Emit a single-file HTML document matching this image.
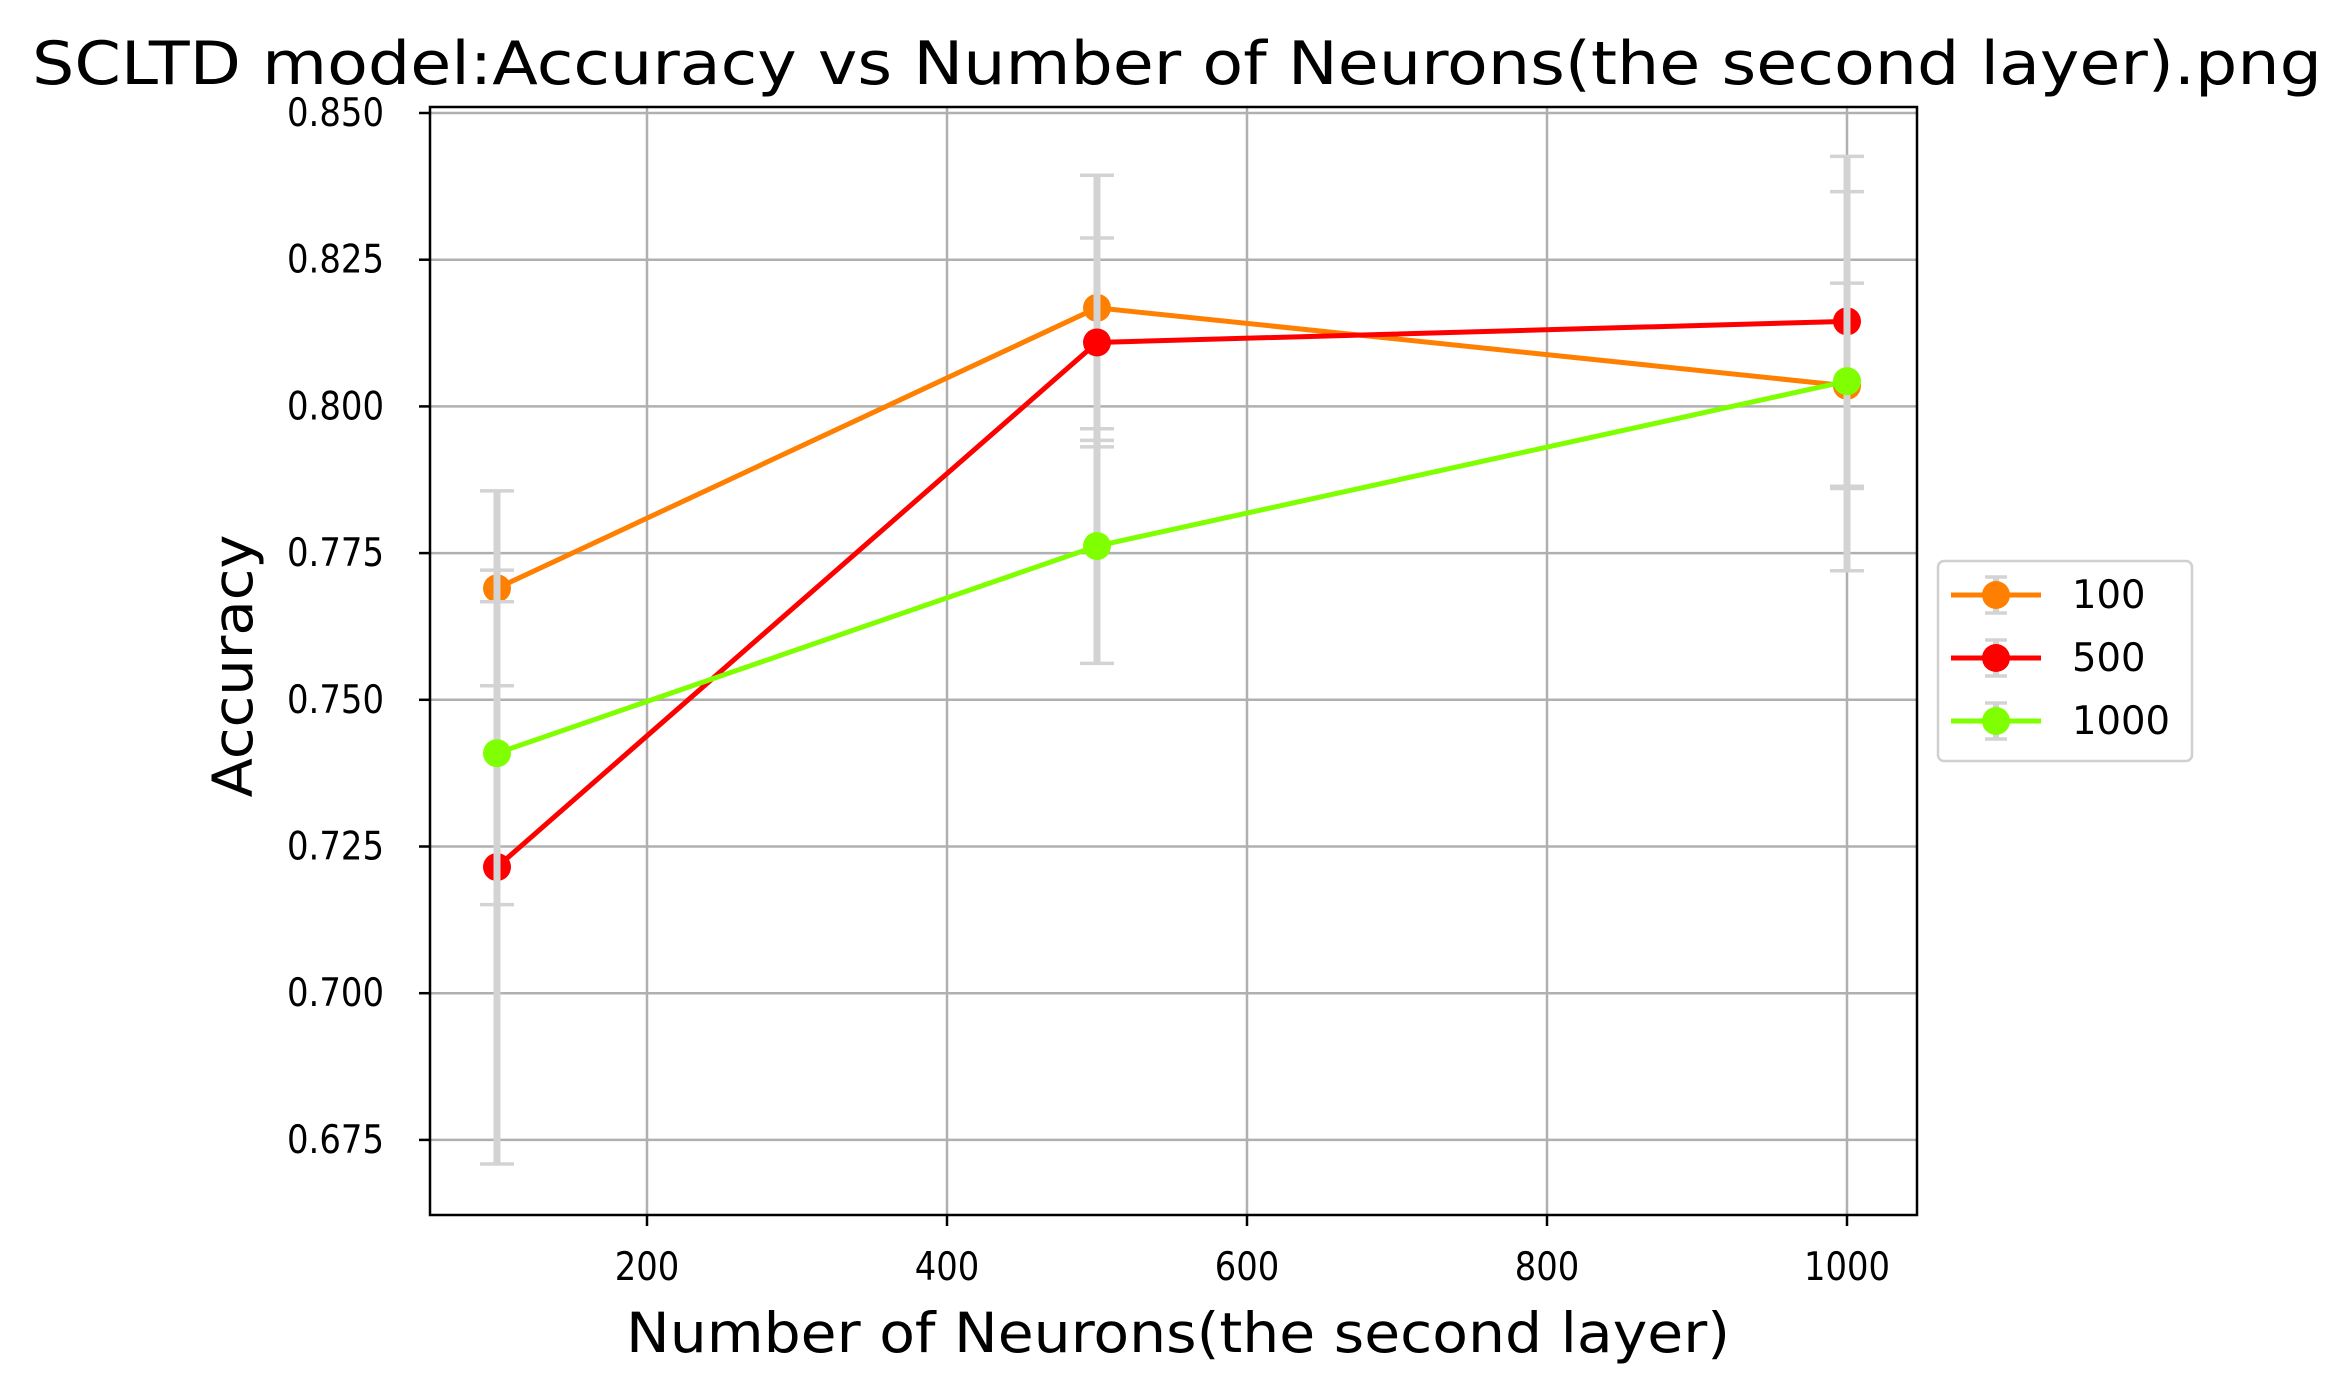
<!DOCTYPE html>
<html><head><meta charset="utf-8"><style>
html,body{margin:0;padding:0;background:#fff}
svg text{font-family:"DejaVu Sans","Liberation Sans",sans-serif;fill:#000}
</style></head><body>
<svg id="chart" width="2345" height="1390" viewBox="0 0 2345 1390" xmlns="http://www.w3.org/2000/svg">
<rect width="2345" height="1390" fill="#fff"/>
<text x="1177" y="84" font-size="60" text-anchor="middle" textLength="2290" lengthAdjust="spacingAndGlyphs">SCLTD model:Accuracy vs Number of Neurons(the second layer).png</text>
<g id="grid"></g><g id="series"></g>
<rect x="430" y="107" width="1487" height="1108" fill="none" stroke="#000" stroke-width="2.5"/>
<g id="ticks"></g>
<text x="1178" y="1352" font-size="55" text-anchor="middle" textLength="1104" lengthAdjust="spacingAndGlyphs">Number of Neurons(the second layer)</text>
<text transform="translate(252,666) rotate(-90)" font-size="55" text-anchor="middle" textLength="263" lengthAdjust="spacingAndGlyphs">Accuracy</text>
<g id="legend"></g>
</svg>
<script>
const categories=[100,500,1000];
const seriesNames=["100","500","1000"];
const seriesColors=["#ff7f00","#ff0000","#7fff00"];
const acc100=[0.769,0.8168,0.8035];
const acc500=[0.7215,0.8109,0.8145];
const acc1000=[0.7409,0.7762,0.8043];
const err100=[0.0166,0.0226,0.0175];
const err500=[0.0506,0.0178,0.0281];
const err1000=[0.0258,0.0200,0.0323];
const xTicks=[200,400,600,800,1000];
const yTicks=[0.675,0.700,0.725,0.750,0.775,0.800,0.825,0.850];
const X=v=>497+(v-100)*1.5;
const Y=v=>113+(0.85-v)*5868;
const NS="http://www.w3.org/2000/svg";
function mk(tag,attrs,parent){const e=document.createElementNS(NS,tag);for(const k in attrs)e.setAttribute(k,attrs[k]);parent.appendChild(e);return e;}
const grid=document.getElementById('grid'),ticks=document.getElementById('ticks'),ser=document.getElementById('series'),leg=document.getElementById('legend');
xTicks.forEach(t=>{
 const g=mk('line',{x1:X(t),x2:X(t),y1:107,y2:1215,stroke:'#b0b0b0','stroke-width':2.5},grid);
 
 
 const tk=mk('line',{x1:X(t),x2:X(t),y1:1215,y2:1226,stroke:'#000','stroke-width':2.5},ticks);
 
 
 const s=String(t);
 const tx=mk('text',{x:X(t),y:1280,'font-size':39,'text-anchor':'middle',textLength:s.length*21.5,lengthAdjust:'spacingAndGlyphs'},ticks);tx.textContent=s;
 
 
});
yTicks.forEach(t=>{
 const g=mk('line',{x1:430,x2:1917,y1:Y(t),y2:Y(t),stroke:'#b0b0b0','stroke-width':2.5},grid);
 
 
 const tk=mk('line',{x1:419,x2:430,y1:Y(t),y2:Y(t),stroke:'#000','stroke-width':2.5},ticks);
 
 
 const tx=mk('text',{x:384,y:Y(t)+13,'font-size':39,'text-anchor':'end',textLength:97,lengthAdjust:'spacingAndGlyphs'},ticks);tx.textContent=t.toFixed(3);
 
 
});
const allVals=[acc100,acc500,acc1000],allErr=[err100,err500,err1000];
allVals.forEach((vals,si)=>{
 const g=mk('g',{},ser);
 
 
 vals.forEach((v,i)=>{
  const x=X(categories[i]),e=allErr[si][i];
  const b=mk('line',{x1:x,x2:x,y1:Y(v-e),y2:Y(v+e),stroke:'#d3d3d3','stroke-width':7},g);
  
  
  [v-e,v+e].forEach(c=>{
   const cp=mk('line',{x1:x-17,x2:x+17,y1:Y(c),y2:Y(c),stroke:'#d3d3d3','stroke-width':3.5},g);
   
   
  });
 });
 const pl=mk('polyline',{points:vals.map((v,i)=>X(categories[i])+','+Y(v)).join(' '),fill:'none',stroke:seriesColors[si],'stroke-width':5},g);
 
 
 vals.forEach((v,i)=>{
  const c=mk('circle',{cx:X(categories[i]),cy:Y(v),r:14,fill:seriesColors[si]},g);
  
  
 });
});
const lb=mk('rect',{x:1938,y:561,width:254,height:200,rx:6,fill:'#fff',stroke:'#d0d0d0','stroke-width':2.5},leg);


seriesNames.forEach((n,i)=>{
 const y=595+i*63;
 const g=mk('g',{},leg);
 
 
 mk('line',{x1:1996,x2:1996,y1:y-18,y2:y+18,stroke:'#d3d3d3','stroke-width':6},g);
 mk('line',{x1:1985,x2:2007,y1:y-18,y2:y-18,stroke:'#d3d3d3','stroke-width':3.5},g);
 mk('line',{x1:1985,x2:2007,y1:y+18,y2:y+18,stroke:'#d3d3d3','stroke-width':3.5},g);
 mk('line',{x1:1951,x2:2041,y1:y,y2:y,stroke:seriesColors[i],'stroke-width':5},g);
 mk('circle',{cx:1996,cy:y,r:14,fill:seriesColors[i]},g);
 const t=mk('text',{x:2072,y:y+13,'font-size':39,textLength:n.length*24.5,lengthAdjust:'spacingAndGlyphs'},g);t.textContent=n;
});
</script>
</body></html>
